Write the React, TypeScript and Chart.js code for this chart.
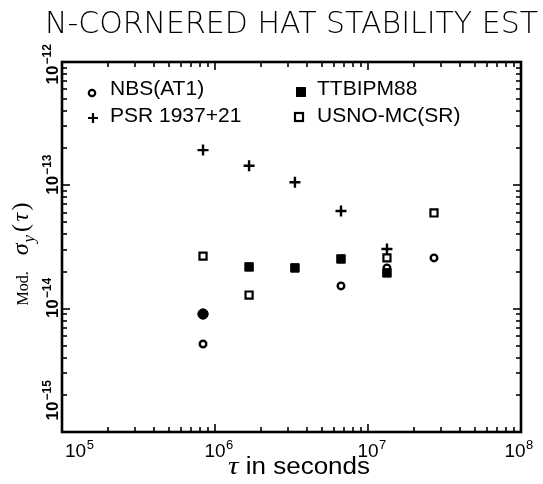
import React, { useEffect, useRef } from "react";
import { Chart, registerables } from "chart.js";

Chart.register(...registerables);

// ---- data ----
const tauSeconds = [8.35e5, 1.67e6, 3.33e6, 6.66e6, 1.33e7, 2.7e7];
const nbsAT1 = [5.17e-15, null, null, 1.53e-14, 2.14e-14, 2.58e-14];
const psr193721 = [1.93e-13, 1.44e-13, 1.06e-13, 6.2e-14, 3.05e-14, null];
const ttbipm88 = [9.05e-15, 2.18e-14, 2.14e-14, 2.53e-14, 1.95e-14, null];
const usnoMC = [2.67e-14, 1.29e-14, null, null, 2.58e-14, 5.97e-14];
const seriesNames = ["NBS(AT1)", "PSR 1937+21", "TTBIPM88", "USNO-MC(SR)"];
const xTickExponents = [5, 6, 7, 8];
const yTickExponents = [-15, -14, -13, -12];
const titleText = "N-CORNERED HAT STABILITY EST";
const xTitleText = " in seconds";

const SANS = '"Liberation Sans", Arial, sans-serif';
const NARROW = '"Liberation Sans Narrow", "Liberation Sans", Arial, sans-serif';
const SERIF = '"Liberation Serif", "DejaVu Serif", serif';

function toPoints(vals: (number | null)[]) {
  const pts: { x: number; y: number }[] = [];
  vals.forEach((v, i) => {
    if (v !== null) pts.push({ x: tauSeconds[i], y: v });
  });
  return pts;
}

function drawMarker(ctx: CanvasRenderingContext2D, kind: string, x: number, y: number) {
  ctx.save();
  ctx.strokeStyle = "#000";
  ctx.fillStyle = "#000";
  if (kind === "circle") {
    ctx.lineWidth = 2.2;
    ctx.beginPath();
    ctx.arc(x, y, 3.2, 0, Math.PI * 2);
    ctx.stroke();
  } else if (kind === "cross") {
    ctx.lineWidth = 2.2;
    ctx.beginPath();
    ctx.moveTo(x - 5, y);
    ctx.lineTo(x + 5, y);
    ctx.moveTo(x, y - 5);
    ctx.lineTo(x, y + 5);
    ctx.stroke();
  } else if (kind === "filled") {
    ctx.fillRect(x - 5, y - 5, 10, 10);
  } else if (kind === "open") {
    ctx.lineWidth = 2.2;
    ctx.strokeRect(x - 4, y - 4, 8, 8);
  }
  ctx.restore();
}

const framePlugin = {
  id: "frame",
  afterDraw(chart: any) {
    const { ctx, chartArea: a } = chart;
    const xs = chart.scales.x;
    const ys = chart.scales.y;
    const line = (x1: number, y1: number, x2: number, y2: number) => {
      ctx.beginPath();
      ctx.moveTo(x1, y1);
      ctx.lineTo(x2, y2);
      ctx.stroke();
    };
    ctx.save();
    ctx.strokeStyle = "#000";
    ctx.fillStyle = "#000";

    // inward ticks on all four sides
    ctx.lineWidth = 1.6;
    for (let e = xTickExponents[0]; e < xTickExponents[xTickExponents.length - 1]; e++) {
      for (let m = 1; m < 10; m++) {
        const px = Math.round(xs.getPixelForValue(m * Math.pow(10, e)));
        const len = m === 1 ? 8 : 5;
        line(px, a.bottom, px, a.bottom - len);
        line(px, a.top, px, a.top + len);
      }
    }
    for (let e = yTickExponents[0]; e < yTickExponents[yTickExponents.length - 1]; e++) {
      for (let m = 1; m < 10; m++) {
        const py = Math.round(ys.getPixelForValue(m * Math.pow(10, e)));
        const len = m === 1 ? 8 : 5;
        line(a.left, py, a.left + len, py);
        line(a.right, py, a.right - len, py);
      }
    }

    // box
    ctx.lineWidth = 2.6;
    ctx.strokeRect(a.left, a.top, a.right - a.left, a.bottom - a.top);

    // x tick labels
    ctx.textBaseline = "alphabetic";
    xTickExponents.forEach((e, i) => {
      const px = xs.getPixelForValue(Math.pow(10, e));
      ctx.font = `19px ${NARROW}`;
      const wb = ctx.measureText("10").width;
      let start = px - wb / 2;
      if (i === 0) start = px + 3;
      if (i === xTickExponents.length - 1) start = px - wb / 2 - 6;
      ctx.textAlign = "left";
      ctx.fillText("10", start, 457);
      ctx.font = `13px ${NARROW}`;
      ctx.fillText(String(e), start + wb + 0.5, 449);
    });

    // y tick labels (rotated, reading upward)
    yTickExponents.forEach((e, i) => {
      const py = ys.getPixelForValue(Math.pow(10, e));
      const exp = "\u2212" + String(-e);
      ctx.font = `bold 17px ${NARROW}`;
      const wb = ctx.measureText("10").width;
      let c = py;
      if (i === 0) c = py - 21;
      if (i === yTickExponents.length - 1) c = py + 13;
      ctx.save();
      ctx.translate(58, c);
      ctx.rotate(-Math.PI / 2);
      ctx.textAlign = "left";
      ctx.fillText("10", -wb / 2, 0);
      ctx.font = `bold 12px ${NARROW}`;
      ctx.fillText(exp, wb / 2 + 1, -7);
      ctx.restore();
    });

    // y axis title: Mod. σ_y(τ)
    {
      const parts: { t: string; f: string; dy: number; gap: number }[] = [
        { t: "Mod.", f: `16px ${SERIF}`, dy: 0, gap: 16 },
        { t: "σ", f: `italic 24px ${SERIF}`, dy: 0, gap: 1 },
        { t: "y", f: `italic 17px ${SERIF}`, dy: 6, gap: 3 },
        { t: "(", f: `24px ${SERIF}`, dy: 0, gap: 2.5 },
        { t: "τ", f: `italic 24px ${SERIF}`, dy: 0, gap: 2.5 },
        { t: ")", f: `24px ${SERIF}`, dy: 0, gap: 0 },
      ];
      let total = 0;
      parts.forEach((p) => {
        ctx.font = p.f;
        total += ctx.measureText(p.t).width + p.gap;
      });
      ctx.save();
      ctx.translate(28, 254);
      ctx.rotate(-Math.PI / 2);
      ctx.textAlign = "left";
      let x = -total / 2;
      parts.forEach((p) => {
        ctx.font = p.f;
        ctx.fillText(p.t, x, p.dy);
        x += ctx.measureText(p.t).width + p.gap;
      });
      ctx.restore();
    }

    // x axis title
    {
      ctx.font = `italic 26px ${SERIF}`;
      const wt = ctx.measureText("τ").width;
      ctx.font = `23px ${SANS}`;
      const wr = ctx.measureText(xTitleText).width;
      const start = 228;
      const scale = (370 - 228) / (wt + wr);
      ctx.save();
      ctx.translate(start, 474);
      ctx.scale(scale, 1);
      ctx.textAlign = "left";
      ctx.font = `italic 26px ${SERIF}`;
      ctx.fillText("τ", 0, 0);
      ctx.font = `23px ${SANS}`;
      ctx.fillText(xTitleText, wt, 0);
      ctx.restore();
    }

    // chart title (thin face, fitted to the reference width)
    {
      ctx.font = `200 30px "DejaVu Sans", ${SANS}`;
      const w = ctx.measureText(titleText).width;
      const target = 493;
      ctx.save();
      ctx.translate(45, 33);
      ctx.scale(target / w, 1);
      ctx.textAlign = "left";
      ctx.fillText(titleText, 0, 0);
      ctx.restore();
    }

    // legend
    ctx.textAlign = "left";
    ctx.textBaseline = "middle";
    ctx.font = `21px ${SANS}`;
    const legend = [
      { kind: "circle", mx: 92, my: 93, tx: 110, ty: 89 },
      { kind: "cross", mx: 93, my: 118, tx: 110, ty: 116 },
      { kind: "filled", mx: 301, my: 92, tx: 317, ty: 89 },
      { kind: "open", mx: 299, my: 117, tx: 317, ty: 116 },
    ];
    legend.forEach((l, i) => {
      drawMarker(ctx, l.kind, l.mx, l.my);
      ctx.fillText(seriesNames[i], l.tx, l.ty);
    });

    ctx.restore();
  },
};

export default function App() {
  const ref = useRef<HTMLCanvasElement | null>(null);
  useEffect(() => {
    if (!ref.current) return;
    const chart = new Chart(ref.current, {
      type: "scatter",
      data: {
        datasets: [
          {
            label: seriesNames[0],
            data: toPoints(nbsAT1),
            pointStyle: "circle",
            pointRadius: 3.3,
            borderWidth: 2.4,
            borderColor: "#000",
            backgroundColor: "rgba(0,0,0,0)",
          },
          {
            label: seriesNames[1],
            data: toPoints(psr193721),
            pointStyle: "cross",
            pointRadius: 5.5,
            borderWidth: 2.4,
            borderColor: "#000",
            backgroundColor: "#000",
          },
          {
            label: seriesNames[2],
            data: toPoints(ttbipm88),
            pointStyle: ["circle", "rect", "rect", "rect", "rect"],
            pointRadius: [5.2, 6, 6, 6, 6],
            borderWidth: 1,
            borderColor: "#000",
            backgroundColor: "#000",
          },
          {
            label: seriesNames[3],
            data: toPoints(usnoMC),
            pointStyle: "rect",
            pointRadius: 5,
            borderWidth: 2.2,
            borderColor: "#000",
            backgroundColor: "rgba(0,0,0,0)",
          },
        ] as any,
      },
      options: {
        animation: false,
        responsive: false,
        devicePixelRatio: 1,
        layout: { padding: { left: 62, top: 62, right: 22, bottom: 52 } },
        plugins: {
          legend: { display: false },
          tooltip: { enabled: false },
          title: { display: false },
        },
        scales: {
          x: {
            type: "logarithmic",
            min: 1e5,
            max: 1e8,
            display: false,
          },
          y: {
            type: "logarithmic",
            min: 1e-15,
            max: 1e-12,
            display: false,
          },
        },
      },
      plugins: [framePlugin],
    });
    return () => chart.destroy();
  }, []);
  return (
    <div style={{ position: "fixed", left: 0, top: 0, width: 543, height: 484, background: "#fff" }}>
      <canvas ref={ref} width={543} height={484} style={{ display: "block" }} />
    </div>
  );
}
